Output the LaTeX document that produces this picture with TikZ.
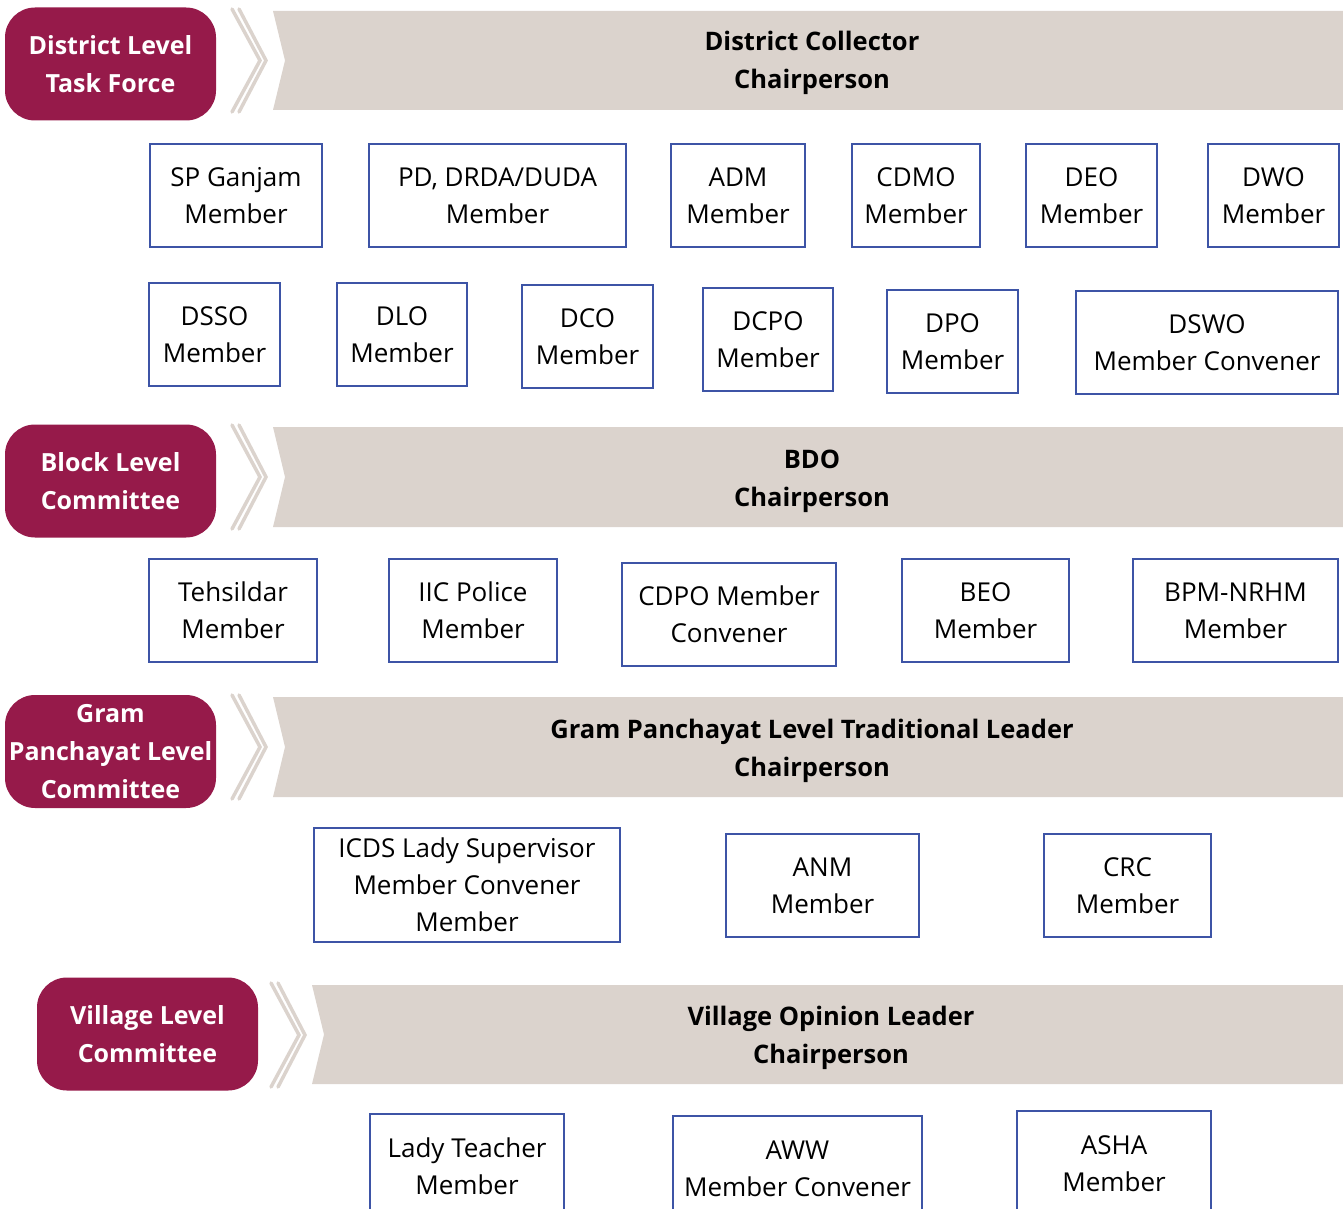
\documentclass[tikz,border=0pt]{standalone}
\usepackage{fontspec}
\setmainfont{Open Sans}
\usepackage{tikz}

\definecolor{levelred}{HTML}{961A4A}
\definecolor{bannergray}{HTML}{DBD3CD}
\definecolor{boxblue}{HTML}{3D54A6}

\begin{document}
\begin{tikzpicture}[x=1pt,y=-1pt]
\tikzset{level/.style={rectangle,rounded corners=30pt,fill=levelred,text=white,align=center,
  minimum width=211pt,minimum height=113pt,inner sep=0pt,font=\fontsize{25}{38}\selectfont\bfseries}}
\tikzset{head/.style={align=center,inner sep=0pt,font=\fontsize{25.5}{38}\selectfont\bfseries}}
\tikzset{banner/.style={fill=bannergray}}
\tikzset{chev/.style={draw=bannergray,line width=3.5pt,line cap=round}}
\tikzset{member/.style={rectangle,draw=boxblue,line width=2pt,align=center,inner sep=0pt,
  minimum height=103pt,font=\fontsize{26}{37}\selectfont}}

\clip (0,0) rectangle (1343,1209);

% district level
\node[level] (dist) at (110.5,64) {District Level\\Task Force};
\draw[chev] (232,9) -- (260,60.5) -- (232,112);
\draw[chev] (239,9) -- (266,60.5) -- (239,112);
\fill[banner] (273,11) -- (1350,11) -- (1350,110) -- (273,110) -- (285,60.5) -- cycle;
\node[head] (dc) at (812,63) {District Collector\\Chairperson};

\node[member,minimum width=172pt] (sp) at (236,195.5) {SP Ganjam\\Member};
\node[member,minimum width=257pt] (pd) at (497.5,195.5) {PD, DRDA/DUDA\\Member};
\node[member,minimum width=134pt] (adm) at (738,195.5) {ADM\\Member};
\node[member,minimum width=128pt] (cdmo) at (916,195.5) {CDMO\\Member};
\node[member,minimum width=131pt] (deo) at (1091.5,195.5) {DEO\\Member};
\node[member,minimum width=131pt] (dwo) at (1273.5,195.5) {DWO\\Member};

\node[member,minimum width=131pt] (dsso) at (214.5,334.5) {DSSO\\Member};
\node[member,minimum width=130pt] (dlo) at (402,334.5) {DLO\\Member};
\node[member,minimum width=131pt] (dco) at (587.5,336.5) {DCO\\Member};
\node[member,minimum width=130pt] (dcpo) at (768,339.5) {DCPO\\Member};
\node[member,minimum width=131pt] (dpo) at (952.5,341.5) {DPO\\Member};
\node[member,minimum width=262pt] (dswo) at (1207,342.5) {DSWO\\Member Convener};

% block level
\node[level] (block) at (110.5,481) {Block Level\\Committee};
\draw[chev] (232,425) -- (260,477) -- (232,529);
\draw[chev] (239,425) -- (266,477) -- (239,529);
\fill[banner] (273,427) -- (1350,427) -- (1350,527) -- (273,527) -- (285,477) -- cycle;
\node[head] (bdo) at (812,481) {BDO\\Chairperson};

\node[member,minimum width=168pt] (teh) at (233,610.5) {Tehsildar\\Member};
\node[member,minimum width=168pt] (iic) at (473,610.5) {IIC Police\\Member};
\node[member,minimum width=214pt] (cdpo) at (729,614.5) {CDPO Member\\Convener};
\node[member,minimum width=167pt] (beo) at (985.5,610.5) {BEO\\Member};
\node[member,minimum width=205pt] (bpm) at (1235.5,610.5) {BPM-NRHM\\Member};

% gram panchayat level
\node[level] (gram) at (110.5,751.5) {Gram\\Panchayat Level\\Committee};
\draw[chev] (232,695) -- (260,747) -- (232,799);
\draw[chev] (239,695) -- (266,747) -- (239,799);
\fill[banner] (273,697) -- (1350,697) -- (1350,797) -- (273,797) -- (285,747) -- cycle;
\node[head] (gpl) at (812,750.5) {Gram Panchayat Level Traditional Leader\\Chairperson};

\node[member,minimum width=306pt,minimum height=114pt] (icds) at (467,885) {ICDS Lady Supervisor\\Member Convener\\Member};
\node[member,minimum width=193pt] (anm) at (822.5,885.5) {ANM\\Member};
\node[member,minimum width=167pt] (crc) at (1127.5,885.5) {CRC\\Member};

% village level
\node[level,minimum width=221pt] (village) at (147.5,1034) {Village Level\\Committee};
\draw[chev] (271,983) -- (299,1035) -- (271,1087);
\draw[chev] (278,983) -- (305,1035) -- (278,1087);
\fill[banner] (312,985) -- (1350,985) -- (1350,1084) -- (312,1084) -- (324,1034.5) -- cycle;
\node[head] (vol) at (831,1037.5) {Village Opinion Leader\\Chairperson};

\node[member,minimum width=194pt,minimum height=105pt] (lady) at (467,1166.5) {Lady Teacher\\Member};
\node[member,minimum width=249pt,minimum height=105pt] (aww) at (797.5,1168.5) {AWW\\Member Convener};
\node[member,minimum width=194pt,minimum height=105pt] (asha) at (1114,1163.5) {ASHA\\Member};
\end{tikzpicture}
\end{document}
